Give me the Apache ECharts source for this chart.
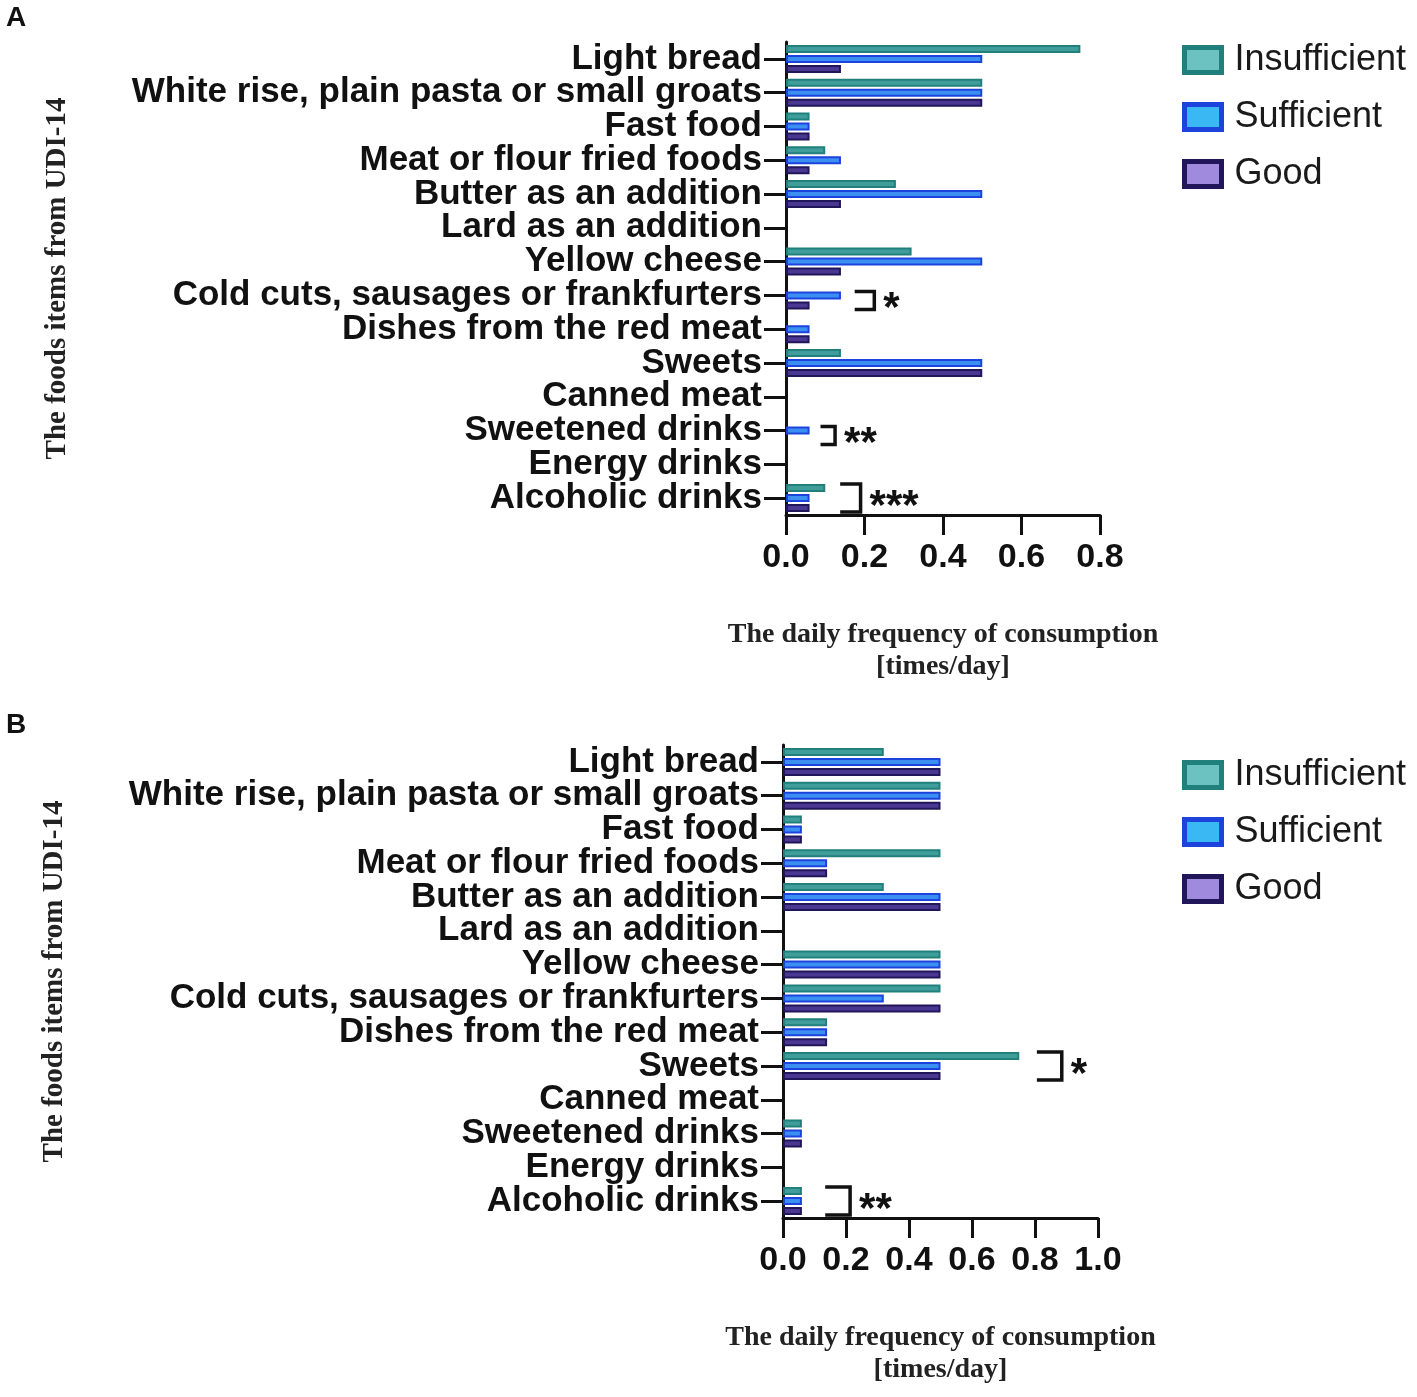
<!DOCTYPE html>
<html>
<head>
<meta charset="utf-8">
<script src="https://cdn.jsdelivr.net/npm/echarts@6/dist/echarts.min.js"></script>
<style>
  html, body { margin: 0; padding: 0; background: #fff; }
  #chart { width: 1417px; height: 1397px; }
</style>
</head>
<body>
<div id="chart"></div>
<script>
// food items from UDI-14 (top to bottom)
var categories = [
  'Light bread',
  'White rise, plain pasta or small groats',
  'Fast food',
  'Meat or flour fried foods',
  'Butter as an addition',
  'Lard as an addition',
  'Yellow cheese',
  'Cold cuts, sausages or frankfurters',
  'Dishes from the red meat',
  'Sweets',
  'Canned meat',
  'Sweetened drinks',
  'Energy drinks',
  'Alcoholic drinks'
];
var groups = ['Insufficient', 'Sufficient', 'Good'];

// panel A
var insufficientA = [0.75, 0.5, 0.06, 0.10, 0.28, 0, 0.32, 0, 0, 0.14, 0, 0, 0, 0.10];
var sufficientA   = [0.5, 0.5, 0.06, 0.14, 0.5, 0, 0.5, 0.14, 0.06, 0.5, 0, 0.06, 0, 0.06];
var goodA         = [0.14, 0.5, 0.06, 0.06, 0.14, 0, 0.14, 0.06, 0.06, 0.5, 0, 0, 0, 0.06];
var ticksA = { max: 0.8, interval: 0.2 };

// panel B
var insufficientB = [0.32, 0.5, 0.06, 0.5, 0.32, 0, 0.5, 0.5, 0.14, 0.75, 0, 0.06, 0, 0.06];
var sufficientB   = [0.5, 0.5, 0.06, 0.14, 0.5, 0, 0.5, 0.32, 0.14, 0.5, 0, 0.06, 0, 0.06];
var goodB         = [0.5, 0.5, 0.06, 0.14, 0.5, 0, 0.5, 0.5, 0.14, 0.5, 0, 0.06, 0, 0.06];
var ticksB = { max: 1.0, interval: 0.2 };

// significance brackets: [category index, x start, x end, first bar, last bar, label]
var signifA = [
  [7, 0.175, 0.225, 1, 2, '*'],
  [11, 0.088, 0.125, 1, 2, '**'],
  [13, 0.138, 0.19, 0, 2, '***']
];
var signifB = [
  [9, 0.806, 0.885, 0, 2, '*'],
  [13, 0.134, 0.213, 0, 2, '**']
];

var colors = [
  { border: '#22807c', fill: '#3f9e99', legend: '#6cc2c0' },
  { border: '#1c44dc', fill: '#3b8ef2', legend: '#3ab8f4' },
  { border: '#22165a', fill: '#4a3792', legend: '#a08ade' }
];

var barW = 8, barStep = 10;

function barSeries(name, values, idx, axisIdx) {
  return {
    name: name,
    type: 'bar',
    xAxisIndex: axisIdx,
    yAxisIndex: axisIdx,
    // zero frequencies draw no bar
    data: values.map(function (v) { return v === 0 ? '-' : v; }),
    barWidth: barW,
    barGap: '25%',
    silent: true,
    itemStyle: {
      color: colors[idx].fill,
      borderColor: colors[idx].border,
      borderWidth: 2
    }
  };
}

function bracketSeries(items, axisIdx) {
  return {
    type: 'custom',
    xAxisIndex: axisIdx,
    yAxisIndex: axisIdx,
    silent: true,
    z: 10,
    data: items,
    renderItem: function (params, api) {
      var cat = api.value(0);
      var p0 = api.coord([api.value(1), cat]);
      var p1 = api.coord([api.value(2), cat]);
      var yTop = p0[1] + (api.value(3) - 1) * barStep - 4;
      var yBot = p0[1] + (api.value(4) - 1) * barStep + 4;
      var label = items[params.dataIndex][5];
      return {
        type: 'group',
        children: [{
          type: 'polyline',
          shape: { points: [[p0[0], yTop], [p1[0], yTop], [p1[0], yBot], [p0[0], yBot]] },
          style: { stroke: '#111', lineWidth: 3.5, fill: null }
        }, {
          type: 'text',
          style: {
            x: p1[0] + 9, y: (yTop + yBot) / 2 + 9,
            text: label,
            fill: '#111',
            font: 'bold 42px "Liberation Sans", Arial, sans-serif',
            verticalAlign: 'middle', align: 'left'
          }
        }]
      };
    }
  };
}

var labelFont = '"Liberation Sans", Arial, sans-serif';
var serifFont = '"Liberation Serif", "Times New Roman", serif';

function xAxisOf(idx, ticks) {
  return {
    type: 'value', gridIndex: idx, min: 0, max: ticks.max, interval: ticks.interval,
    splitLine: { show: false },
    axisLine: { show: true, lineStyle: { color: '#111', width: 3 } },
    axisTick: { show: true, length: 20, lineStyle: { color: '#111', width: 3 } },
    axisLabel: {
      margin: 26, color: '#111', fontSize: 34, fontWeight: 'bold', fontFamily: labelFont,
      formatter: function (v) { return v.toFixed(1); }
    },
    name: 'The daily frequency of consumption\n[times/day]',
    nameLocation: 'middle',
    nameGap: 104,
    nameTextStyle: { color: '#222', fontSize: 28, fontWeight: 'bold', fontFamily: serifFont, lineHeight: 32 }
  };
}

function yAxisOf(idx) {
  return {
    type: 'category', gridIndex: idx, data: categories, inverse: true,
    axisLine: { show: true, lineStyle: { color: '#111', width: 3 } },
    axisTick: { show: true, alignWithLabel: true, length: 22, lineStyle: { color: '#111', width: 3 } },
    axisLabel: { interval: 0, margin: 24, color: '#111', fontSize: 35, fontWeight: 'bold', fontFamily: labelFont },
    name: 'The foods items from UDI-14',
    nameLocation: 'middle',
    nameRotate: 90,
    nameGap: 714,
    nameTextStyle: { color: '#222', fontSize: 29, fontWeight: 'bold', fontFamily: serifFont }
  };
}

function legendOf(top) {
  return {
    data: groups.map(function (g, i) {
      return { name: g, itemStyle: { color: colors[i].legend, borderColor: colors[i].border, borderWidth: 5 } };
    }),
    orient: 'vertical',
    left: 1177, top: top,
    icon: 'rect',
    itemWidth: 37, itemHeight: 25, itemGap: 21,
    selectedMode: false,
    textStyle: { fontSize: 36, color: '#1a1a1a', fontFamily: labelFont, padding: [0, 0, 0, 8] }
  };
}

var chart = echarts.init(document.getElementById('chart'));
chart.setOption({
  animation: false,
  backgroundColor: '#fff',
  graphic: [
    { type: 'text', left: 6, top: 4, style: { text: 'A', font: 'bold 28px ' + labelFont, fill: '#111' } },
    { type: 'text', left: 6, top: 711, style: { text: 'B', font: 'bold 28px ' + labelFont, fill: '#111' } }
  ],
  legend: [legendOf(37), legendOf(752)],
  grid: [
    { left: 786, top: 42, width: 314, height: 473 },
    { left: 783, top: 745, width: 315, height: 473 }
  ],
  xAxis: [xAxisOf(0, ticksA), xAxisOf(1, ticksB)],
  yAxis: [yAxisOf(0), yAxisOf(1)],
  series: [
    barSeries(groups[0], insufficientA, 0, 0),
    barSeries(groups[1], sufficientA, 1, 0),
    barSeries(groups[2], goodA, 2, 0),
    barSeries(groups[0], insufficientB, 0, 1),
    barSeries(groups[1], sufficientB, 1, 1),
    barSeries(groups[2], goodB, 2, 1),
    bracketSeries(signifA, 0),
    bracketSeries(signifB, 1)
  ]
});
</script>
</body>
</html>
